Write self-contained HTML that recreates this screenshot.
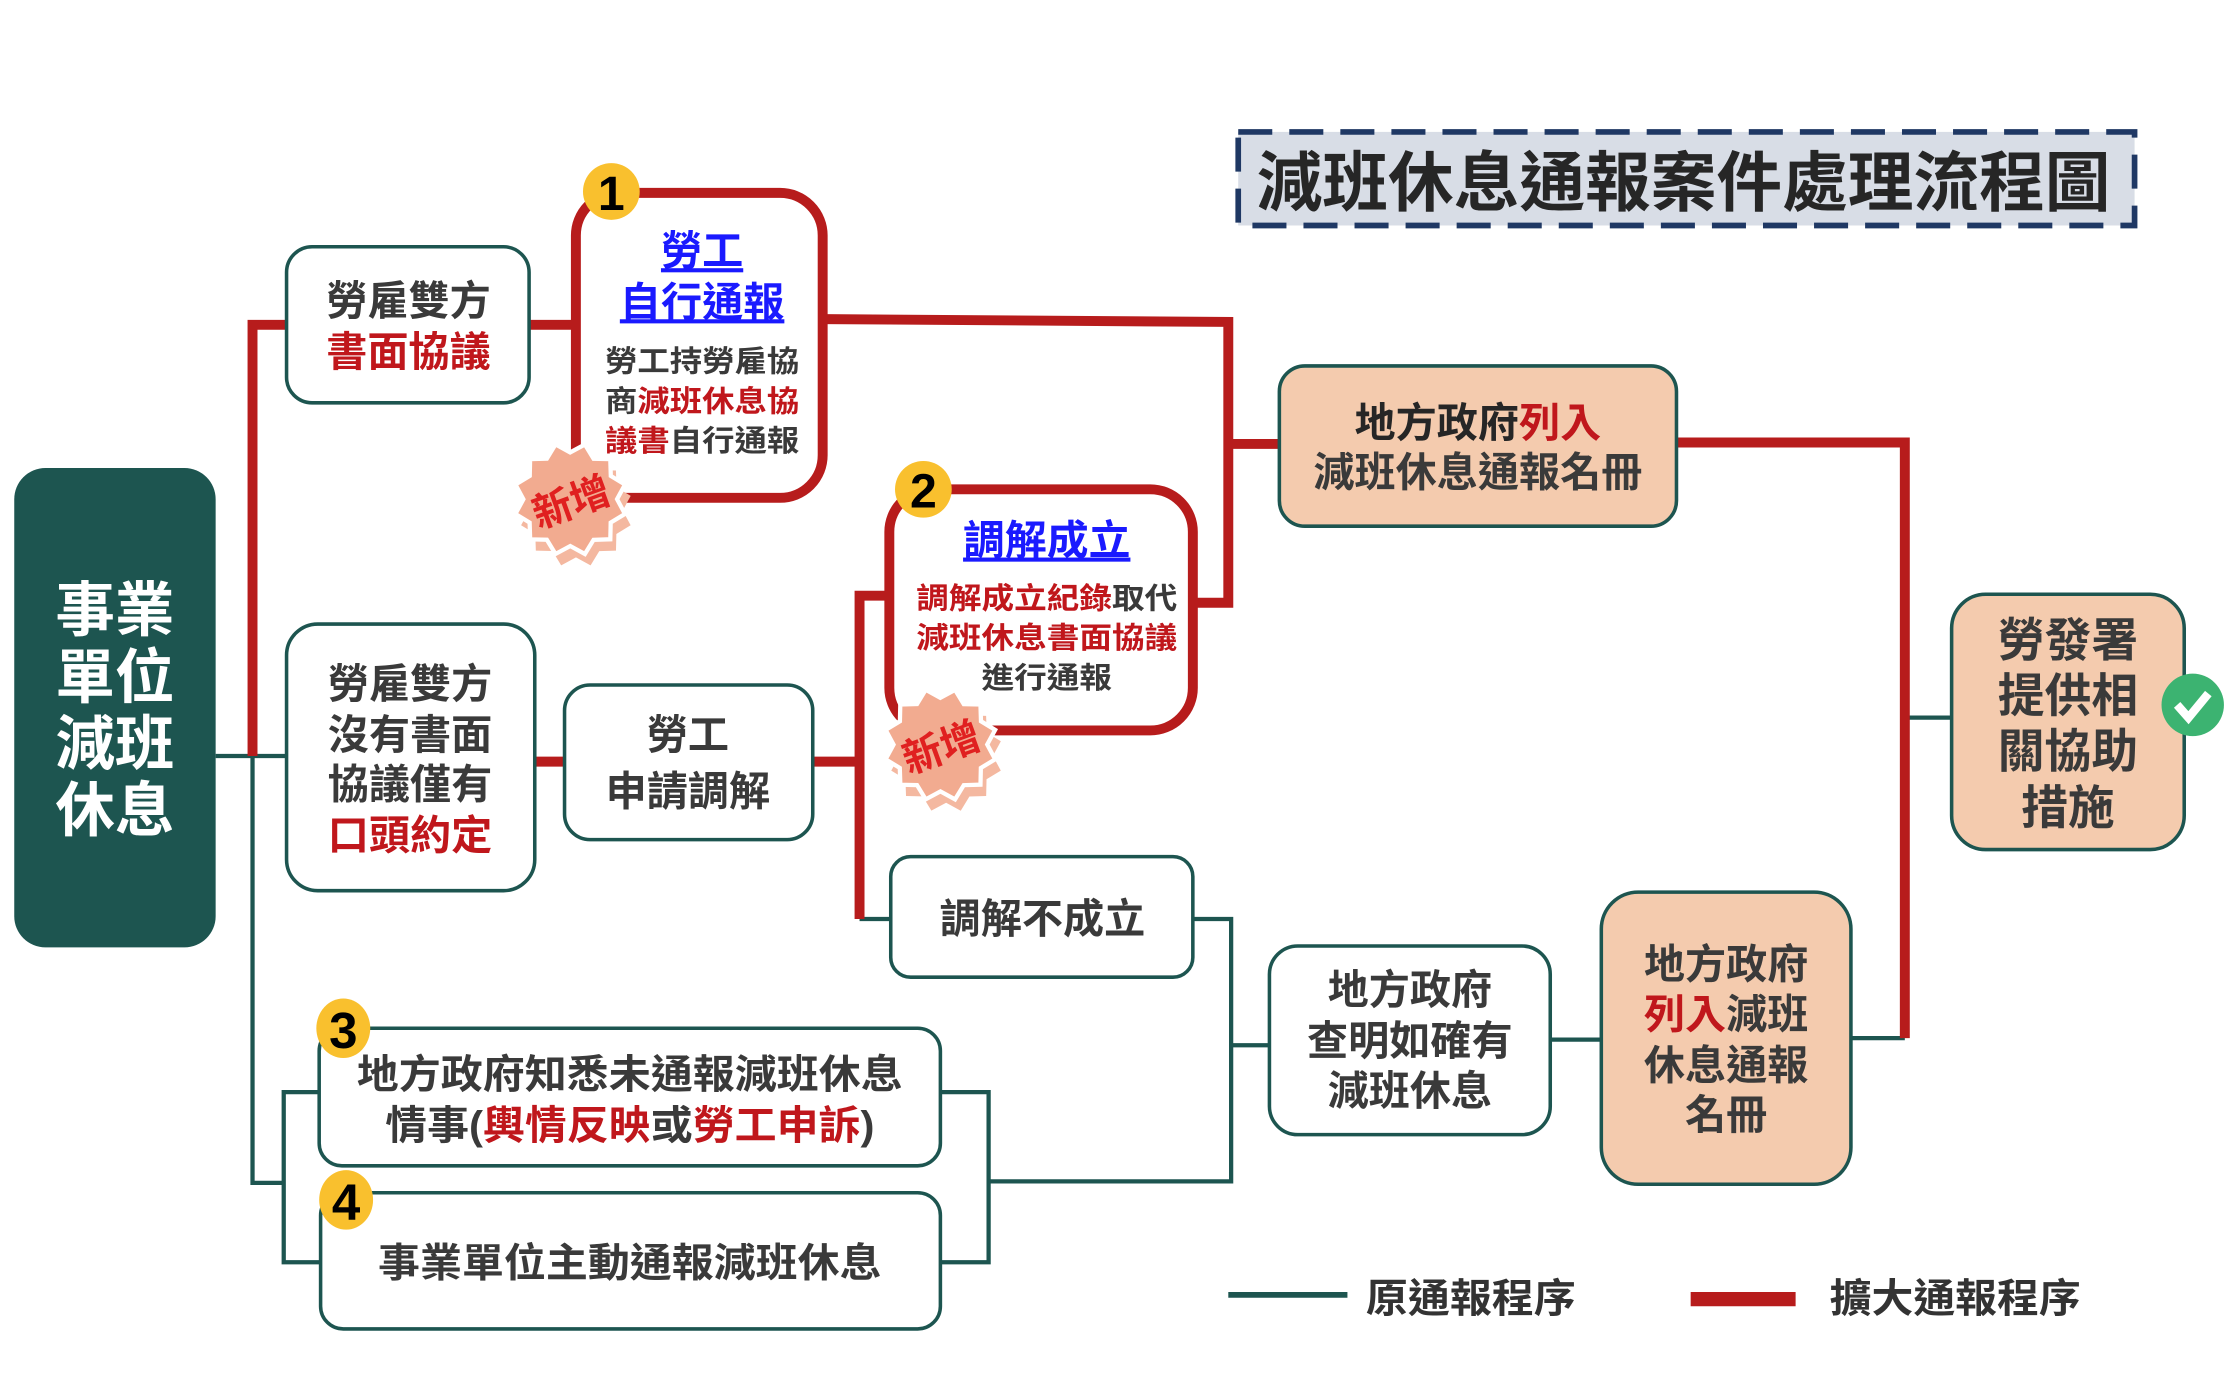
<!DOCTYPE html>
<html><head><meta charset="utf-8"><style>
html,body{margin:0;padding:0;background:#fff;width:2224px;height:1398px;overflow:hidden}
svg{display:block}
text{font-family:"Liberation Sans","Noto Sans CJK TC",sans-serif;font-weight:700}
</style></head><body>
<svg width="2224" height="1398" viewBox="0 0 1568 985.7" xmlns="http://www.w3.org/2000/svg">
<defs>
<polygon id="st" points="40,0 31.9,8.5 34.6,20 23.3,23.3 20,34.6 8.5,31.9 0,40 -8.5,31.9 -20,34.6 -23.3,23.3 -34.6,20 -31.9,8.5 -40,0 -31.9,-8.5 -34.6,-20 -23.3,-23.3 -20,-34.6 -8.5,-31.9 0,-40 8.5,-31.9 20,-34.6 23.3,-23.3 34.6,-20 31.9,-8.5"/>
</defs>
<g fill="none" stroke-linejoin="miter">
<g stroke="#1d5550" stroke-width="3">
<polyline points="152,533 202,533"/>
<polyline points="178,533 178,834 200,834"/>
<polyline points="225,770 200,770 200,890 226,890"/>
<polyline points="663,770 697,770 697,890 663,890"/>
<polyline points="697,833 868,833 868,648 841,648"/>
<polyline points="868,737 895,737"/>
<polyline points="1093,733 1129,733"/>
<polyline points="1305,732 1343,732"/>
<polyline points="1343,506 1376,506"/>
<polyline points="606,648 628,648"/>
</g>
<g stroke="#b71c1c" stroke-width="7">
<polyline points="202,229 178,229 178,533"/>
<polyline points="373,229 403,229"/>
<polyline points="582,225 866,227 866,425 843,425"/>
<polyline points="866,313 902,313"/>
<polyline points="377,537 398,537"/>
<polyline points="573,537 606,537"/>
<polyline points="624,420 606,420 606,648"/>
<polyline points="1182,312 1343,312 1343,732"/>
</g>
</g>
<rect x="873" y="93" width="632" height="66" fill="#d8dde6" stroke="#1f3864" stroke-width="4" stroke-dasharray="24,12"/>
<text x="1187" y="145" font-size="46" fill="#262626" text-anchor="middle" textLength="602" lengthAdjust="spacingAndGlyphs">減班休息通報案件處理流程圖</text>
<rect x="10" y="330" width="142" height="338" rx="22" fill="#1d5550"/>
<g fill="#fff" font-size="42" text-anchor="middle">
<text x="81" y="445">事業</text><text x="81" y="492">單位</text><text x="81" y="539">減班</text><text x="81" y="586">休息</text>
</g>
<rect x="202" y="174" width="171" height="110" rx="18" fill="#fff" stroke="#1d5550" stroke-width="2.5"/>
<text x="288" y="222" font-size="29" fill="#3a3a3a" text-anchor="middle">勞雇雙方</text>
<text x="288" y="258" font-size="29" fill="#c0171c" text-anchor="middle">書面協議</text>
<rect x="406" y="136" width="174" height="215" rx="30" fill="#fff" stroke="#b71c1c" stroke-width="7"/>
<g text-anchor="middle">
<text x="495" y="187" font-size="29" fill="#1a1aff" text-decoration="underline">勞工</text>
<text x="495" y="223" font-size="29" fill="#1a1aff" text-decoration="underline">自行通報</text>
<text x="495" y="262" font-size="21" fill="#3a3a3a" textLength="137" lengthAdjust="spacingAndGlyphs">勞工持勞雇協</text>
<text x="495" y="290" font-size="21" fill="#3a3a3a" textLength="137" lengthAdjust="spacingAndGlyphs">商<tspan fill="#c0171c">減班休息協</tspan></text>
<text x="495" y="318" font-size="21" fill="#c0171c" textLength="137" lengthAdjust="spacingAndGlyphs">議書<tspan fill="#3a3a3a">自行通報</tspan></text>
</g>
<circle cx="431" cy="135" r="20" fill="#f9c02e"/>
<text x="431" y="148" font-size="34" font-weight="400" fill="#000" text-anchor="middle">1</text>
<use href="#st" transform="translate(406,360) rotate(-15)" fill="#f4b8a0"/>
<use href="#st" transform="translate(402,352) rotate(-15)" fill="#f2ab90" stroke="#fff" stroke-width="3"/>
<text x="402" y="364" font-size="28" font-weight="400" fill="#e02020" text-anchor="middle" transform="rotate(-20 402 352)">新增</text>
<rect x="202" y="440" width="175" height="188" rx="22" fill="#fff" stroke="#1d5550" stroke-width="2.5"/>
<g font-size="29" text-anchor="middle" fill="#3a3a3a">
<text x="289" y="492">勞雇雙方</text><text x="289" y="528">沒有書面</text><text x="289" y="563">協議僅有</text>
<text x="289" y="599" fill="#c0171c">口頭約定</text>
</g>
<rect x="398" y="483" width="175" height="109" rx="18" fill="#fff" stroke="#1d5550" stroke-width="2.5"/>
<text x="485" y="528" font-size="29" fill="#3a3a3a" text-anchor="middle">勞工</text>
<text x="485" y="568" font-size="29" fill="#3a3a3a" text-anchor="middle">申請調解</text>
<rect x="627" y="345" width="214" height="170" rx="30" fill="#fff" stroke="#b71c1c" stroke-width="7"/>
<g text-anchor="middle">
<text x="738" y="391" font-size="29" fill="#1a1aff" text-decoration="underline" textLength="118" lengthAdjust="spacingAndGlyphs">調解成立</text>
<text x="738" y="429" font-size="21" fill="#c0171c" textLength="184" lengthAdjust="spacingAndGlyphs">調解成立紀錄<tspan fill="#3a3a3a">取代</tspan></text>
<text x="738" y="457" font-size="21" fill="#c0171c" textLength="184" lengthAdjust="spacingAndGlyphs">減班休息書面協議</text>
<text x="738" y="485" font-size="21" fill="#3a3a3a" textLength="92" lengthAdjust="spacingAndGlyphs">進行通報</text>
</g>
<circle cx="651" cy="345" r="20" fill="#f9c02e"/>
<text x="651" y="358" font-size="34" font-weight="400" fill="#000" text-anchor="middle">2</text>
<use href="#st" transform="translate(667,533) rotate(-15)" fill="#f4b8a0"/>
<use href="#st" transform="translate(663,525) rotate(-15)" fill="#f2ab90" stroke="#fff" stroke-width="3"/>
<text x="663" y="537" font-size="28" font-weight="400" fill="#e02020" text-anchor="middle" transform="rotate(-20 663 525)">新增</text>
<rect x="628" y="604" width="213" height="85" rx="14" fill="#fff" stroke="#1d5550" stroke-width="2.5"/>
<text x="735" y="658" font-size="29" fill="#3a3a3a" text-anchor="middle">調解不成立</text>
<rect x="902" y="258" width="280" height="113" rx="18" fill="#f4cbae" stroke="#1d5550" stroke-width="2.5"/>
<text x="1042" y="308" font-size="29" fill="#262626" text-anchor="middle">地方政府<tspan fill="#c0171c">列入</tspan></text>
<text x="1042" y="343" font-size="29" fill="#3a3a3a" text-anchor="middle">減班休息通報名冊</text>
<rect x="1376" y="419" width="164" height="180" rx="24" fill="#f4cbae" stroke="#1d5550" stroke-width="2.5"/>
<g font-size="33" fill="#3a3a3a" text-anchor="middle">
<text x="1458" y="463">勞發署</text><text x="1458" y="502">提供相</text><text x="1458" y="541">關協助</text><text x="1458" y="581">措施</text>
</g>
<circle cx="1546" cy="497" r="22" fill="#3cb371"/>
<polyline points="1535,497 1543,506 1557,489" fill="none" stroke="#fff" stroke-width="6"/>
<rect x="895" y="667" width="198" height="133" rx="20" fill="#fff" stroke="#1d5550" stroke-width="2.5"/>
<g font-size="29" fill="#3a3a3a" text-anchor="middle">
<text x="994" y="708">地方政府</text><text x="994" y="744">查明如確有</text><text x="994" y="779">減班休息</text>
</g>
<rect x="1129" y="629" width="176" height="206" rx="26" fill="#f4cbae" stroke="#1d5550" stroke-width="2.5"/>
<g font-size="29" fill="#3a3a3a" text-anchor="middle">
<text x="1217" y="690">地方政府</text>
<text x="1217" y="725"><tspan fill="#c0171c">列入</tspan>減班</text>
<text x="1217" y="761">休息通報</text><text x="1217" y="796">名冊</text>
</g>
<rect x="225" y="725" width="438" height="97" rx="16" fill="#fff" stroke="#1d5550" stroke-width="2.5"/>
<text x="444" y="767" font-size="28" fill="#3a3a3a" text-anchor="middle" textLength="385" lengthAdjust="spacingAndGlyphs">地方政府知悉未通報減班休息</text>
<text x="444" y="803" font-size="28" fill="#3a3a3a" text-anchor="middle" textLength="345" lengthAdjust="spacingAndGlyphs">情事(<tspan fill="#c0171c">輿情反映</tspan>或<tspan fill="#c0171c">勞工申訴</tspan>)</text>
<ellipse cx="242" cy="725" rx="19" ry="21" fill="#f9c02e"/>
<text x="242" y="739" font-size="36" font-weight="400" fill="#000" text-anchor="middle">3</text>
<rect x="226" y="841" width="437" height="96" rx="16" fill="#fff" stroke="#1d5550" stroke-width="2.5"/>
<text x="444" y="900" font-size="28" fill="#3a3a3a" text-anchor="middle" textLength="355" lengthAdjust="spacingAndGlyphs">事業單位主動通報減班休息</text>
<ellipse cx="244" cy="846" rx="19" ry="21" fill="#f9c02e"/>
<text x="244" y="860" font-size="36" font-weight="400" fill="#000" text-anchor="middle">4</text>
<line x1="866" y1="913" x2="950" y2="913" stroke="#1d5550" stroke-width="4"/>
<text x="963" y="925" font-size="28" font-weight="300" fill="#333" textLength="148" lengthAdjust="spacingAndGlyphs">原通報程序</text>
<line x1="1192" y1="916" x2="1266" y2="916" stroke="#b71c1c" stroke-width="10"/>
<text x="1290" y="925" font-size="28" font-weight="300" fill="#333" textLength="177" lengthAdjust="spacingAndGlyphs">擴大通報程序</text>
</svg>
</body></html>
